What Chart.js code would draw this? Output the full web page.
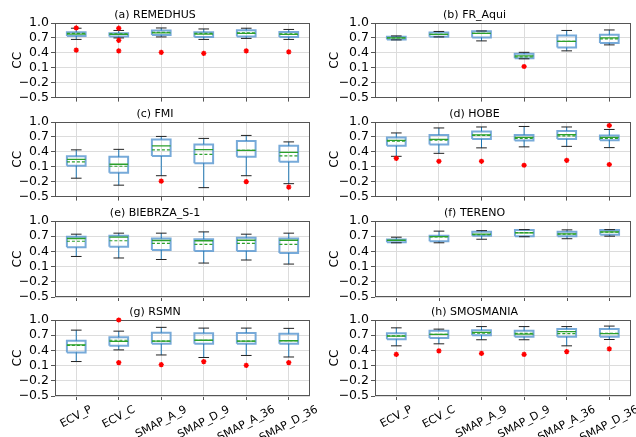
<!DOCTYPE html>
<html>
<head>
<meta charset="utf-8">
<script src="https://cdn.jsdelivr.net/npm/chart.js@4.4.0/dist/chart.umd.min.js"></script>
<style>
  body { margin: 0; background: #fff; width: 636px; height: 437px; position: relative; overflow: hidden; }
  canvas { position: absolute; }
</style>
</head>
<body>
<script>
const stations = ['(a) REMEDHUS', '(b) FR_Aqui', '(c) FMI', '(d) HOBE',
                  '(e) BIEBRZA_S-1', '(f) TERENO', '(g) RSMN', '(h) SMOSMANIA'];
const products = ['ECV_P', 'ECV_C', 'SMAP_A_9', 'SMAP_D_9', 'SMAP_A_36', 'SMAP_D_36'];
const yTicks = [-0.5, -0.2, 0.1, 0.4, 0.7, 1.0];

// one row per station (a..h), one column per product
const whiskLo = [
  [0.67, 0.70, 0.72, 0.67, 0.69, 0.67],
  [0.66, 0.72, 0.64, 0.28, 0.44, 0.56],
  [-0.13, -0.27, -0.08, -0.32, -0.08, -0.24],
  [0.31, 0.37, 0.48, 0.50, 0.51, 0.485],
  [0.30, 0.27, 0.24, 0.17, 0.23, 0.15],
  [0.57, 0.57, 0.64, 0.69, 0.65, 0.70],
  [0.18, 0.41, 0.31, 0.26, 0.30, 0.27],
  [0.49, 0.53, 0.61, 0.61, 0.49, 0.615]
];
const q1 = [
  [0.737, 0.73, 0.76, 0.72, 0.73, 0.72],
  [0.67, 0.724, 0.71, 0.29, 0.507, 0.60],
  [0.12, -0.02, 0.315, 0.17, 0.30, 0.20],
  [0.52, 0.55, 0.66, 0.63, 0.66, 0.635],
  [0.48, 0.49, 0.43, 0.41, 0.41, 0.37],
  [0.58, 0.60, 0.71, 0.70, 0.70, 0.73],
  [0.36, 0.49, 0.53, 0.53, 0.53, 0.53],
  [0.62, 0.645, 0.70, 0.67, 0.67, 0.67]
];
const medians = [
  [0.776, 0.77, 0.80, 0.776, 0.79, 0.77],
  [0.70, 0.77, 0.79, 0.34, 0.63, 0.70],
  [0.25, 0.15, 0.52, 0.445, 0.43, 0.39],
  [0.63, 0.65, 0.74, 0.69, 0.745, 0.69],
  [0.655, 0.68, 0.615, 0.61, 0.62, 0.62],
  [0.62, 0.69, 0.74, 0.765, 0.745, 0.785],
  [0.51, 0.58, 0.585, 0.60, 0.585, 0.59],
  [0.68, 0.715, 0.755, 0.72, 0.77, 0.73]
];
const means = [
  [0.79, 0.78, 0.81, 0.79, 0.80, 0.78],
  [0.70, 0.77, 0.79, 0.32, 0.63, 0.68],
  [0.20, 0.11, 0.44, 0.35, 0.43, 0.32],
  [0.615, 0.635, 0.73, 0.67, 0.72, 0.67],
  [0.60, 0.61, 0.56, 0.54, 0.56, 0.54],
  [0.615, 0.685, 0.73, 0.77, 0.74, 0.78],
  [0.50, 0.60, 0.585, 0.60, 0.585, 0.59],
  [0.685, 0.715, 0.74, 0.735, 0.73, 0.735]
];
const q3 = [
  [0.816, 0.796, 0.85, 0.816, 0.855, 0.82],
  [0.724, 0.81, 0.835, 0.38, 0.75, 0.763],
  [0.31, 0.30, 0.65, 0.55, 0.62, 0.52],
  [0.69, 0.74, 0.81, 0.74, 0.82, 0.73],
  [0.69, 0.71, 0.655, 0.64, 0.67, 0.655],
  [0.635, 0.71, 0.79, 0.82, 0.79, 0.82],
  [0.59, 0.66, 0.75, 0.74, 0.745, 0.73],
  [0.74, 0.79, 0.80, 0.79, 0.82, 0.82]
];
const whiskHi = [
  [0.895, 0.85, 0.90, 0.88, 0.895, 0.87],
  [0.74, 0.83, 0.84, 0.41, 0.85, 0.86],
  [0.44, 0.45, 0.71, 0.67, 0.73, 0.60],
  [0.78, 0.88, 0.90, 0.91, 0.90, 0.85],
  [0.74, 0.76, 0.76, 0.785, 0.74, 0.76],
  [0.68, 0.80, 0.81, 0.83, 0.825, 0.83],
  [0.80, 0.78, 0.855, 0.84, 0.84, 0.835],
  [0.845, 0.82, 0.87, 0.87, 0.87, 0.88]
];
const fliers = [
  [[0.90, 0.454], [0.895, 0.65, 0.44], [0.41], [0.39], [0.44], [0.42]],
  [[], [], [], [0.125], [], []],
  [[], [], [-0.19], [], [-0.20], [-0.31]],
  [[0.27], [0.21], [0.21], [0.13], [0.23], [0.93, 0.145]],
  [[], [], [], [], [], []],
  [[], [], [], [], [], []],
  [[], [1.0, 0.16], [0.12], [0.18], [0.105], [0.16]],
  [[0.32], [0.39], [0.34], [0.32], [0.375], [0.43]]
];

Chart.defaults.font.family = 'DejaVu Sans';
Chart.defaults.color = '#000';

const rowTop = [23, 122, 221, 320];
const plotH = 76;
const titleH = 16;
const boxHalf = 0.22, capHalf = 0.125;

// polylines -> one dataset, broken by null points
function polylines(list) {
  const out = [];
  list.forEach(pl => {
    pl.forEach(p => out.push({x: p[0], y: p[1]}));
    out.push({x: pl[pl.length - 1][0], y: null});
  });
  return out;
}

function fmt(v) {
  const s = Math.abs(v).toFixed(1);
  return v < -0.001 ? '\u2212' + s : s;
}

const frame = {
  id: 'frame',
  beforeDatasetsDraw(c) {
    const a = c.chartArea, g = c.ctx;
    g.save();
    g.strokeStyle = '#555';
    g.lineWidth = 1;
    g.strokeRect(Math.round(a.left) + 0.5, Math.round(a.top) + 0.5,
                 Math.round(a.right - a.left) - 1, Math.round(a.bottom - a.top) - 1);
    g.restore();
  }
};

// rotated category labels, centred under each tick like matplotlib
const slantLabels = {
  id: 'slantLabels',
  afterDraw(c) {
    const g = c.ctx, sx = c.scales.x, top = c.chartArea.bottom + 8;
    const th = 28 * Math.PI / 180, fs = 11;
    g.save();
    g.font = fs + 'px "DejaVu Sans"';
    g.fillStyle = '#000';
    g.textAlign = 'center';
    g.textBaseline = 'middle';
    products.forEach((p, i) => {
      const L = g.measureText(p).width;
      const bh = L * Math.sin(th) + fs * Math.cos(th);
      g.save();
      g.translate(sx.getPixelForValue(i + 1), top + bh / 2);
      g.rotate(-th);
      g.fillText(p, 0, 0);
      g.restore();
    });
    g.restore();
  }
};

function panel(k) {
  const col = k % 2, row = Math.floor(k / 2), last = row === 3;
  const xH = last ? 41 : 4;
  const w = 318, h = titleH + plotH + xH;
  const cv = document.createElement('canvas');
  cv.width = w; cv.height = h;
  cv.style.width = w + 'px'; cv.style.height = h + 'px';
  cv.style.left = (col * 318) + 'px';
  cv.style.top = (rowTop[row] - titleH) + 'px';
  document.body.appendChild(cv);

  const xs = products.map((p, i) => i + 1);
  const boxes = polylines(xs.map((x, i) => [
    [x - boxHalf, q1[k][i]], [x + boxHalf, q1[k][i]], [x + boxHalf, q3[k][i]],
    [x - boxHalf, q3[k][i]], [x - boxHalf, q1[k][i]]]));
  const whisk = polylines(xs.flatMap((x, i) => [
    [[x, whiskLo[k][i]], [x, q1[k][i]]], [[x, q3[k][i]], [x, whiskHi[k][i]]]]));
  const caps = polylines(xs.flatMap((x, i) => [
    [[x - capHalf, whiskLo[k][i]], [x + capHalf, whiskLo[k][i]]],
    [[x - capHalf, whiskHi[k][i]], [x + capHalf, whiskHi[k][i]]]]));
  const med = polylines(xs.map((x, i) => [[x - boxHalf, medians[k][i]], [x + boxHalf, medians[k][i]]]));
  const mean = polylines(xs.map((x, i) => [[x - boxHalf, means[k][i]], [x + boxHalf, means[k][i]]]));
  const out = xs.flatMap((x, i) => fliers[k][i].map(v => ({x: x, y: v})));

  const lineDs = (data, color, width, dash) => ({
    data: data, borderColor: color, borderWidth: width, borderDash: dash || [],
    pointRadius: 0, fill: false, tension: 0, borderCapStyle: 'butt', spanGaps: false
  });

  new Chart(cv, {
    type: 'line',
    data: {
      datasets: [
        {data: out, showLine: false, pointStyle: 'star', pointRadius: 2.6,
         borderColor: '#ff0000', backgroundColor: '#ff0000', pointBorderWidth: 1.4, clip: false},
        lineDs(mean, '#2ca02c', 1.2, [3, 2]),
        lineDs(med, '#2ca02c', 1.3),
        lineDs(caps, '#222222', 1),
        lineDs(whisk, '#1f77b4', 1),
        lineDs(boxes, 'rgba(95,155,210,0.85)', 2)
      ]
    },
    options: {
      responsive: false,
      animation: false,
      events: [],
      layout: {padding: {left: 0, right: col ? 5 : 8, top: 0, bottom: 0}},
      plugins: {
        legend: {display: false},
        tooltip: {enabled: false},
        title: {display: true, text: stations[k], font: {size: 11, weight: 'normal'},
                color: '#000', padding: {top: 1.2, bottom: 1.6}}
      },
      scales: {
        x: {
          type: 'linear', min: 0.5, max: 6.5,
          afterBuildTicks: s => { s.ticks = xs.map(v => ({value: v})); },
          afterFit: s => { s.height = xH; s.paddingLeft = 0; s.paddingRight = 0; },
          grid: {color: '#dcdcdc', tickLength: 4, tickColor: '#555'},
          border: {display: false},
          ticks: {display: false}
        },
        y: {
          min: -0.5, max: 1.0,
          afterBuildTicks: s => { s.ticks = yTicks.map(v => ({value: v})); },
          afterFit: s => { s.width = col ? 57 : 55; s.paddingTop = 0; s.paddingBottom = 0; },
          grid: {color: '#dcdcdc', tickLength: 4, tickColor: '#555'},
          border: {display: false},
          ticks: {autoSkip: false, font: {size: 12.5}, color: '#000', padding: 2,
                  callback: v => fmt(v)},
          title: {display: true, text: 'CC', font: {size: 12}, color: '#000',
                  padding: {top: col ? 10 : 11, bottom: 0}}
        }
      }
    },
    plugins: last ? [frame, slantLabels] : [frame]
  });
}

stations.forEach((s, k) => panel(k));
</script>
</body>
</html>
